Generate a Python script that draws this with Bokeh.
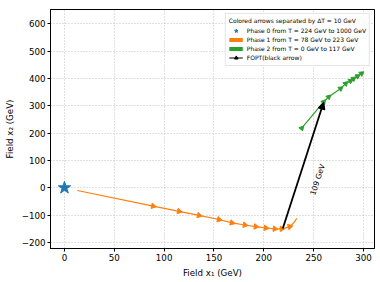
import math
from bokeh.plotting import figure
from bokeh.models import (Range1d, FixedTicker, Arrow, NormalHead, Label,
                          Legend, LegendItem, ColumnDataSource)
from bokeh.embed import file_html
from bokeh.resources import INLINE

# ---------------- data ----------------
phase0_x = [0.0]
phase0_y = [0.0]

phase1_x = [13, 89, 115, 135, 155, 168, 181, 192, 202, 211, 218, 226, 230, 233]
phase1_y = [-10, -67, -86, -101, -116, -128, -136, -142, -147, -150, -150, -142, -128, -112]
phase1_arrow_idx = [1, 2, 3, 4, 5, 6, 7, 8, 9, 10, 11]

phase2_x = [238, 260, 265, 277, 282, 287, 290, 294, 298]
phase2_y = [218, 314, 332, 363, 381, 391, 399, 408, 418]
phase2_arrow_idx = [0, 1, 2, 3, 4, 5, 6, 7, 8]

fopt_start = (219, -149)
fopt_end = (260, 313)
fopt_label = "109 GeV"

x_ticks = [0, 50, 100, 150, 200, 250, 300]
y_ticks = [-200, -100, 0, 100, 200, 300, 400, 500, 600]

legend_title = "Colored arrows separated by ΔT = 10 GeV"
legend_labels = ["Phase 0 from T = 224 GeV to 1000 GeV",
                 "Phase 1 from T = 78 GeV to 223 GeV",
                 "Phase 2 from T = 0 GeV to 117 GeV",
                 "FOPT(black arrow)"]

BLUE, ORANGE, GREEN = "#1f77b4", "#ff7f0e", "#2ca02c"
FONT = "DejaVu Sans"

X0, X1 = -14, 311
Y0, Y1 = -222, 652
W, H = 380, 282
BL, BR, BT, BB = 50, 6, 9, 34

p = figure(width=W, height=H, x_range=Range1d(X0, X1), y_range=Range1d(Y0, Y1),
           output_backend="svg", toolbar_location=None,
           min_border_left=BL, min_border_right=BR, min_border_top=BT,
           min_border_bottom=BB)

kx = (W - BL - BR) / (X1 - X0)
ky = (H - BT - BB) / (Y1 - Y0)


def screen_angles(xs, ys, idx):
    out = []
    for i in idx:
        if i == 0:
            dx, dy = xs[1] - xs[0], ys[1] - ys[0]
        else:
            dx, dy = xs[i] - xs[i - 1], ys[i] - ys[i - 1]
        out.append(math.atan2(dy * ky, dx * kx) - math.pi / 2)
    return out


# phase 1 curve
p.line(phase1_x, phase1_y, line_color=ORANGE, line_width=1.2)
a1 = ColumnDataSource(dict(x=[phase1_x[i] for i in phase1_arrow_idx],
                           y=[phase1_y[i] for i in phase1_arrow_idx],
                           a=screen_angles(phase1_x, phase1_y, phase1_arrow_idx)))
p.scatter("x", "y", angle="a", source=a1, marker="triangle", size=5.5,
          fill_color=ORANGE, line_color=ORANGE)

# phase 2 curve
p.line(phase2_x, phase2_y, line_color=GREEN, line_width=1.2)
a2 = ColumnDataSource(dict(x=[phase2_x[i] for i in phase2_arrow_idx],
                           y=[phase2_y[i] for i in phase2_arrow_idx],
                           a=screen_angles(phase2_x, phase2_y, phase2_arrow_idx)))
p.scatter("x", "y", angle="a", source=a2, marker="triangle", size=5,
          fill_color=GREEN, line_color=GREEN)

# phase 0 star
star = p.scatter(phase0_x, phase0_y, marker="star", size=13,
                 fill_color=BLUE, line_color=BLUE)

# FOPT arrow
p.add_layout(Arrow(x_start=fopt_start[0], y_start=fopt_start[1],
                   x_end=fopt_end[0], y_end=fopt_end[1],
                   line_color="black", line_width=1.8,
                   end=NormalHead(size=7, fill_color="black", line_color="black")))
p.add_layout(Label(x=254, y=30, text=fopt_label, angle=72, angle_units="deg",
                   text_align="center", text_baseline="middle",
                   text_font=FONT, text_font_size="7.5px", text_color="black"))

# legend proxies (hidden renderers, shown only in the legend)
ph1_proxy = p.line(phase1_x, phase1_y, line_color=ORANGE, line_width=4, visible=False)
ph2_proxy = p.line(phase2_x, phase2_y, line_color=GREEN, line_width=4, visible=False)
ar_line = p.line([fopt_start[0], fopt_end[0]], [fopt_start[1], fopt_end[1]],
                 line_color="black", line_width=1, visible=False)
ar_head = p.scatter([fopt_end[0]], [fopt_end[1]], marker="triangle",
                    angle=-math.pi / 2, fill_color="black", line_color="black",
                    visible=False)

legend = Legend(items=[
    LegendItem(label=legend_labels[0], renderers=[star]),
    LegendItem(label=legend_labels[1], renderers=[ph1_proxy]),
    LegendItem(label=legend_labels[2], renderers=[ph2_proxy]),
    LegendItem(label=legend_labels[3], renderers=[ar_line, ar_head]),
], location="top_right", title=legend_title)
legend.title_text_font = FONT
legend.title_text_font_size = "6px"
legend.title_text_font_style = "normal"
legend.title_text_color = "black"
legend.title_standoff = 2
legend.label_text_font = FONT
legend.label_text_font_size = "6px"
legend.label_text_color = "black"
legend.label_height = 9
legend.glyph_height = 9
legend.glyph_width = 14
legend.label_standoff = 4
legend.spacing = 0
legend.padding = 3
legend.margin = 4
legend.border_line_color = "#cccccc"
legend.background_fill_alpha = 0.85
p.add_layout(legend)

# axes
p.xaxis.ticker = FixedTicker(ticks=x_ticks)
p.yaxis.ticker = FixedTicker(ticks=y_ticks)
p.yaxis.major_label_overrides = {t: ("−" + str(-t) if t < 0 else str(t)) for t in y_ticks}
p.xaxis.axis_label = "Field x₁ (GeV)"
p.yaxis.axis_label = "Field x₂ (GeV)"
for ax in (p.xaxis, p.yaxis):
    ax.axis_label_text_font = FONT
    ax.axis_label_text_font_size = "8.7px"
    ax.axis_label_text_font_style = "normal"
    ax.axis_label_text_color = "black"
    ax.axis_label_standoff = 4
    ax.major_label_text_font = FONT
    ax.major_label_text_font_size = "8.7px"
    ax.major_label_text_color = "black"
    ax.major_label_standoff = 2
    ax.major_tick_in = 0
    ax.major_tick_out = 3
    ax.minor_tick_line_color = None
    ax.axis_line_color = "black"
    ax.major_tick_line_color = "black"

p.grid.grid_line_color = "#b0b0b0"
p.grid.grid_line_dash = "1 2"
p.grid.grid_line_width = 0.8
p.outline_line_color = "black"
p.outline_line_width = 1
p.outline_line_alpha = 1

open("out.html", "w").write(file_html(p, INLINE))
